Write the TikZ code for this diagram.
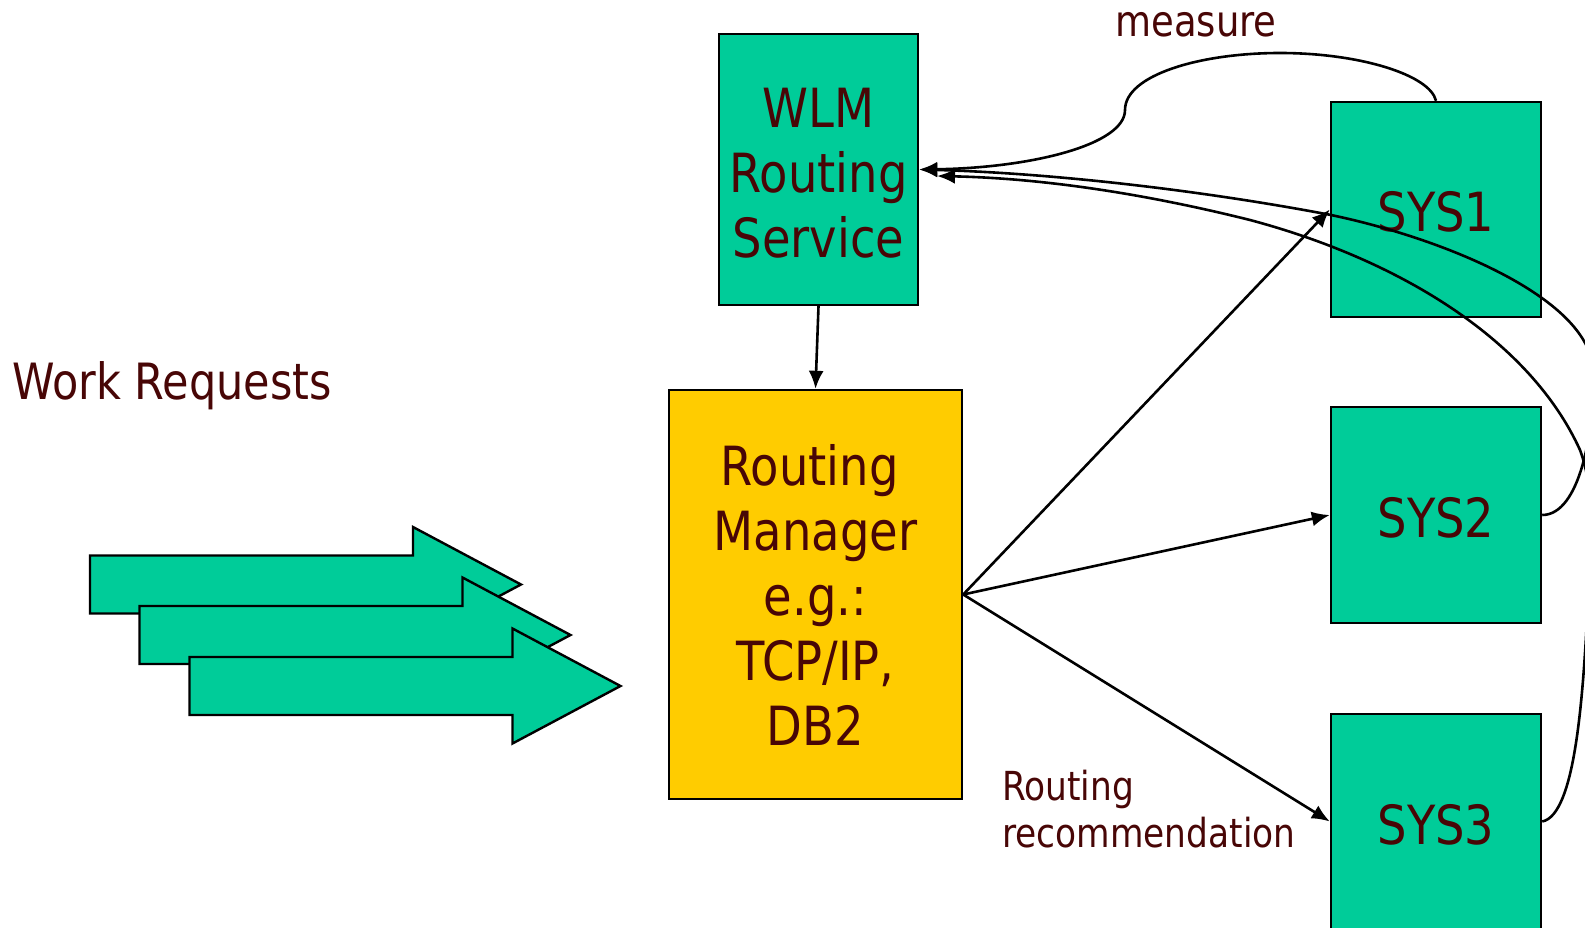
\documentclass[tikz,border=0pt]{standalone}
\usepackage{fontspec}
\setmainfont{DejaVu Sans}[FakeStretch=0.86]
\usetikzlibrary{arrows.meta}
\definecolor{boxgreen}{RGB}{0,204,153}
\definecolor{rmyellow}{RGB}{255,204,0}
\definecolor{txtred}{RGB}{72,6,6}
\newcommand\myupstrut{\rule{0pt}{47pt}}
\begin{document}
\begin{tikzpicture}[x=1pt,y=-1pt,
  box/.style={draw=black, line width=2.4pt, fill=boxgreen, inner sep=0pt, text=txtred,
    font=\fontsize{54}{65}\selectfont, align=center},
  sysbox/.style={box, minimum width=210pt, minimum height=215pt, text height=45pt, text depth=0pt},
  conn/.style={line width=2.6pt, -{Latex[length=18pt,width=15pt]}},
  lbl/.style={text=txtred, inner sep=0pt},
  bigarrow/.style={draw=black, line width=2.4pt, fill=boxgreen, line join=miter}]
\useasboundingbox (0,0) rectangle (1585,928);
\clip (0,0) rectangle (1585,928);

% work request arrows
\foreach \dx/\dy in {0/0, 49.5/50.5, 99.5/101.5}{
  \begin{scope}[shift={(\dx,\dy)}]
    \path[bigarrow] (90,555.5) -- (413,555.5) -- (413,527) -- (521,584.5)
      -- (413,642) -- (413,613.5) -- (90,613.5) -- cycle;
  \end{scope}
}

% boxes
\node[box, minimum width=199pt, minimum height=271pt] (wlm) at (818.5,169.5) {\myupstrut WLM\\Routing\\Service};
\node[box, fill=rmyellow, minimum width=293pt, minimum height=409pt] (rm) at (815.5,594.5)
  {Routing\hspace*{12pt}\\Manager\\e.g.:\\TCP/IP,\\DB2};
\node[sysbox] (sys1) at (1436,209.5) {SYS1};
\node[sysbox, minimum height=216pt] (sys2) at (1436,515) {SYS2};
\node[sysbox] (sys3) at (1436,821.5) {SYS3};

% labels
\node[lbl, anchor=base west, font=\fontsize{50}{58}\selectfont] (wr) at (12,399) {Work Requests};
\node[lbl, anchor=base, font=\fontsize{43}{50}\selectfont] (meas) at (1196,37) {measure};
\node[lbl, anchor=base west, align=left, font=\fontsize{40}{47}\selectfont] (rr) at (1002,847)
  {Routing\\recommendation};

\coordinate (wlmin2) at (937,176);

% connectors
\draw[conn] (wlm.south) -- (rm.north);
\draw[conn] (rm.east) -- (sys1.west);
\draw[conn] (rm.east) -- (sys2.west);
\draw[conn] (rm.east) -- (sys3.west);

% measure curve
\draw[conn] (sys1.north) .. controls (1430,75) and (1360,53) .. (1280,53)
  .. controls (1200,53) and (1125,75) .. (1125,110)
  .. controls (1125,145) and (1030,168) .. (wlm.east);

% feedback from SYS2
\draw[conn] (sys2.east) .. controls (1580,515) and (1595,430) .. (1593,370)
  .. controls (1590,300) and (1450,240) .. (1331,215)
  .. controls (1200,190) and (1050,173) .. (wlm.east);

% feedback from SYS3
\draw[conn] (sys3.east) .. controls (1575,815) and (1583,700) .. (1588,600)
  .. controls (1591,540) and (1595,490) .. (1580,450)
  .. controls (1530,340) and (1400,260) .. (1250,220)
  .. controls (1130,190) and (1030,178) .. (wlmin2);
\end{tikzpicture}
\end{document}
